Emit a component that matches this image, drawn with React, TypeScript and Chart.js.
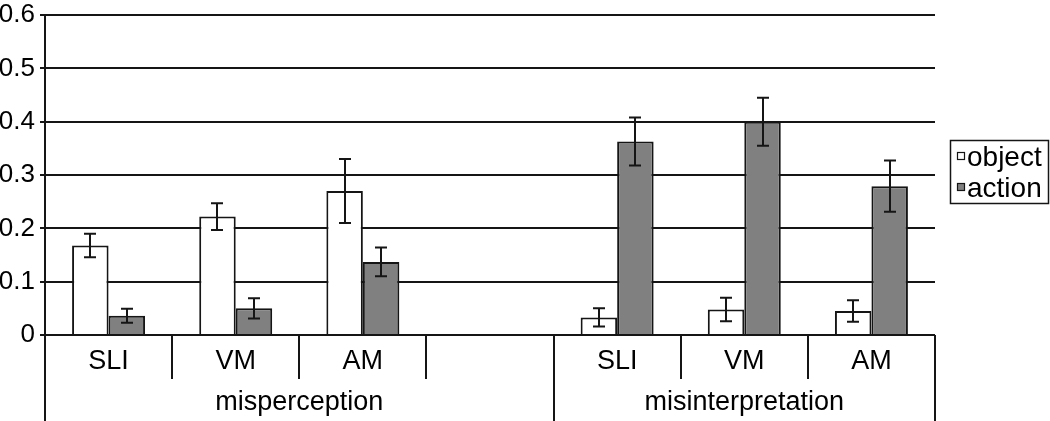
import React, { useEffect, useRef } from "react";
import { Chart, registerables } from "chart.js";

Chart.register(...registerables);

// ---- data ----
const categories = ["SLI", "VM", "AM", "", "SLI", "VM", "AM"];
const groupLabels = ["misperception", "misinterpretation"];
const groupFirstIndex = [0, 4];
const groupLastIndex = [3, 6];
const seriesNames = ["object", "action"];
const objectValues = [0.168, 0.222, 0.27, null, 0.033, 0.048, 0.045];
const actionValues = [0.036, 0.05, 0.137, null, 0.363, 0.4, 0.279];
const objectErrors = [0.022, 0.025, 0.06, null, 0.017, 0.022, 0.02];
const actionErrors = [0.013, 0.019, 0.027, null, 0.045, 0.045, 0.048];
const yTicks = [0, 0.1, 0.2, 0.3, 0.4, 0.5, 0.6];
const yTickLabels = ["0", "0.1", "0.2", "0.3", "0.4", "0.5", "0.6"];

const FONT = "'Liberation Sans', Arial, sans-serif";
const INK = "#151515";
const GRAY = "#808080";

const decorPlugin = {
  id: "decor",
  afterDatasetsDraw(chart: any) {
    const ctx = chart.ctx;
    const errs = [objectErrors, actionErrors];
    const y = chart.scales.y;
    ctx.save();
    ctx.strokeStyle = INK;
    ctx.lineWidth = 2;
    chart.data.datasets.forEach((ds: any, di: number) => {
      const meta = chart.getDatasetMeta(di);
      meta.data.forEach((bar: any, i: number) => {
        const v = ds.data[i];
        const e = errs[di][i];
        if (v == null || e == null) return;
        const x = Math.round(bar.x);
        const top = y.getPixelForValue(v + e);
        const bot = y.getPixelForValue(v - e);
        ctx.beginPath();
        ctx.moveTo(x, top);
        ctx.lineTo(x, bot);
        ctx.moveTo(x - 6, top);
        ctx.lineTo(x + 6, top);
        ctx.moveTo(x - 6, bot);
        ctx.lineTo(x + 6, bot);
        ctx.stroke();
      });
    });
    ctx.restore();
  },
  afterDraw(chart: any) {
    const ctx = chart.ctx;
    const xs = chart.scales.x;
    const area = chart.chartArea;
    const H = chart.height;
    const n = categories.length;
    const half = (xs.getPixelForValue(1) - xs.getPixelForValue(0)) / 2;
    ctx.save();
    ctx.strokeStyle = INK;
    ctx.lineWidth = 2;
    // y axis extension below plot
    ctx.beginPath();
    ctx.moveTo(area.left, area.bottom);
    ctx.lineTo(area.left, H);
    ctx.stroke();
    // separators
    for (let b = 1; b <= n; b++) {
      const x = Math.round(xs.getPixelForValue(b - 1) + half);
      const full = groupLastIndex.includes(b - 1);
      ctx.beginPath();
      ctx.moveTo(x, area.bottom);
      ctx.lineTo(x, full ? H : area.bottom + 44);
      ctx.stroke();
    }
    // category labels
    ctx.fillStyle = "#000";
    ctx.font = `27px ${FONT}`;
    ctx.textAlign = "center";
    ctx.textBaseline = "alphabetic";
    categories.forEach((c, i) => {
      if (!c) return;
      ctx.fillText(c, xs.getPixelForValue(i), area.bottom + 34);
    });
    // group labels
    groupLabels.forEach((g, gi) => {
      const x0 = xs.getPixelForValue(groupFirstIndex[gi]) - half;
      const x1 = xs.getPixelForValue(groupLastIndex[gi]) + half;
      ctx.fillText(g, (x0 + x1) / 2, area.bottom + 75);
    });
    // legend
    const lx = 950, ly = 140, lw = 98, lh = 63;
    ctx.lineWidth = 1.5;
    ctx.fillStyle = "#fff";
    ctx.fillRect(lx, ly, lw, lh);
    ctx.strokeRect(lx + 0.5, ly + 0.5, lw, lh);
    const fills = ["#ffffff", GRAY];
    seriesNames.forEach((s, i) => {
      const cy = ly + 16 + i * 31;
      ctx.fillStyle = fills[i];
      ctx.fillRect(957, cy - 4, 8, 8);
      ctx.lineWidth = 1.2;
      ctx.strokeRect(957.5, cy - 3.5, 7, 7);
      ctx.fillStyle = "#000";
      ctx.font = `28px ${FONT}`;
      ctx.textAlign = "left";
      ctx.fillText(s, 967, cy + 10);
    });
    ctx.restore();
  },
};

export default function App() {
  const ref = useRef<HTMLCanvasElement | null>(null);
  useEffect(() => {
    if (!ref.current) return;
    const chart = new Chart(ref.current, {
      type: "bar",
      data: {
        labels: categories,
        datasets: [
          {
            label: seriesNames[0],
            data: objectValues as any,
            backgroundColor: "#ffffff",
            borderColor: INK,
            borderWidth: 2,
            categoryPercentage: 0.574,
            barPercentage: 1,
          },
          {
            label: seriesNames[1],
            data: actionValues as any,
            backgroundColor: GRAY,
            borderColor: INK,
            borderWidth: 2,
            categoryPercentage: 0.574,
            barPercentage: 1,
          },
        ],
      },
      options: {
        responsive: false,
        animation: false,
        layout: { padding: { top: 10, right: 115, left: 0, bottom: 0 } },
        plugins: { legend: { display: false }, tooltip: { enabled: false } },
        scales: {
          x: {
            offset: true,
            grid: { display: false },
            border: { display: false },
            ticks: { display: false },
            afterFit: (s: any) => {
              s.height = 86;
            },
          },
          y: {
            min: 0,
            max: 0.6,
            afterBuildTicks: (s: any) => {
              s.ticks = yTicks.map((v) => ({ value: v }));
            },
            afterFit: (s: any) => {
              s.width = 45;
            },
            ticks: {
              padding: 5,
              color: "#000",
              font: { family: FONT, size: 26, lineHeight: 0.77 },
              callback: (_v: any, i: number) => yTickLabels[i],
            },
            grid: {
              color: INK,
              lineWidth: 2,
              drawTicks: true,
              tickLength: 5,
            },
            border: { display: true, color: INK, width: 2 },
          },
        },
      },
      plugins: [decorPlugin],
    });
    return () => chart.destroy();
  }, []);
  return (
    <div style={{ position: "absolute", left: 0, top: 0, width: 1050, height: 421, background: "#fff" }}>
      <canvas ref={ref} width={1050} height={421} style={{ display: "block" }} />
    </div>
  );
}
